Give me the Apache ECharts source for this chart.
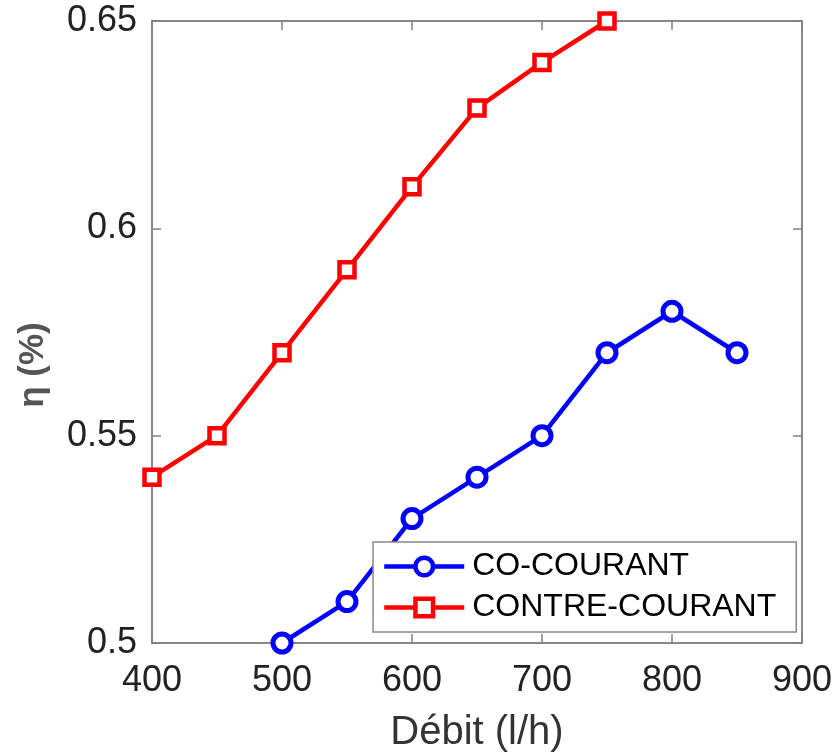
<!DOCTYPE html>
<html><head><meta charset="utf-8">
<script src="https://cdn.jsdelivr.net/npm/echarts@6/dist/echarts.min.js"></script>
<style>html,body{margin:0;padding:0;background:#fff}#c{width:834px;height:756px}</style>
</head><body><div id="c"></div>
<script>
const coX = [500, 550, 600, 650, 700, 750, 800, 850];
const coY = [0.50, 0.51, 0.53, 0.54, 0.55, 0.57, 0.58, 0.57];
const contreX = [400, 450, 500, 550, 600, 650, 700, 750];
const contreY = [0.54, 0.55, 0.57, 0.59, 0.61, 0.629, 0.64, 0.65];
const seriesNames = ['CO-COURANT', 'CONTRE-COURANT'];
const xTitle = 'Débit (l/h)';
const yTitle = 'η (%)';

const chart = echarts.init(document.getElementById('c'));
const font = 'Liberation Sans, Arial, sans-serif';
const axisCol = '#808080';
const hidden = {show:false};
const tick = {show:true, inside:true, length:9, lineStyle:{color:axisCol, width:1.5}};
const line = {show:true, lineStyle:{color:axisCol, width:1.5}};
chart.setOption({
  animation:false,
  backgroundColor:'#fff',
  grid:{left:152, right:32, top:21, bottom:113, show:true, borderColor:axisCol, borderWidth:1.5,
        containLabel:false, outerBoundsMode:'none'},
  legend:{
    data:[
      {name:seriesNames[0], lineStyle:{width:4.5}, itemStyle:{borderWidth:4.5}},
      {name:seriesNames[1], lineStyle:{width:4.5}, itemStyle:{borderWidth:4.5}}
    ],
    orient:'vertical', left:373, top:542,
    padding:[6,20,6,9], itemGap:4, itemWidth:80, itemHeight:22,
    backgroundColor:'#fff', borderColor:'#888', borderWidth:1.5,
    textStyle:{fontFamily:font, fontSize:32, color:'#000', lineHeight:37, padding:[0,0,0,3]}
  },
  xAxis:[{
    type:'value', min:400, max:900, interval:100,
    name:xTitle, nameLocation:'middle', nameGap:70,
    nameTextStyle:{fontFamily:font, fontSize:40, color:'#333'},
    axisLine:line, axisTick:tick,
    axisLabel:{fontFamily:font, fontSize:36, color:'#222', margin:20},
    splitLine:hidden
  },{
    type:'value', min:400, max:900, interval:100, position:'top',
    axisLine:line, axisTick:tick, axisLabel:hidden, splitLine:hidden
  }],
  yAxis:[{
    type:'value', min:0.5, max:0.65, interval:0.05,
    name:yTitle, nameLocation:'middle', nameGap:101, nameRotate:90,
    nameTextStyle:{fontFamily:font, fontSize:35, color:'#555', fontWeight:'bold', padding:[0,66,0,0]},
    axisLine:line, axisTick:tick,
    axisLabel:{fontFamily:font, fontSize:36, color:'#222', margin:15},
    splitLine:hidden
  },{
    type:'value', min:0.5, max:0.65, interval:0.05, position:'right',
    axisLine:line, axisTick:tick, axisLabel:hidden, splitLine:hidden
  }],
  series:[{
    name:seriesNames[0], type:'line', clip:false,
    data:coX.map((x,i)=>[x,coY[i]]),
    symbol:'circle', symbolSize:18,
    lineStyle:{color:'#0000ff', width:4.5},
    itemStyle:{color:'#fff', borderColor:'#0000ff', borderWidth:5}
  },{
    name:seriesNames[1], type:'line', clip:false,
    data:contreX.map((x,i)=>[x,contreY[i]]),
    symbol:'rect', symbolSize:15,
    lineStyle:{color:'#ff0000', width:4.5},
    itemStyle:{color:'#fff', borderColor:'#ff0000', borderWidth:4.5}
  }]
});
</script></body></html>
